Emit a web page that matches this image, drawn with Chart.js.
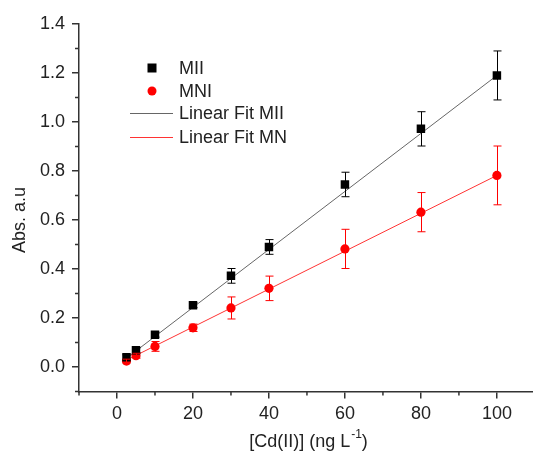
<!DOCTYPE html>
<html>
<head>
<meta charset="utf-8">
<script src="https://cdn.jsdelivr.net/npm/chart.js@4.4.1/dist/chart.umd.min.js"></script>
<style>
	html, body { margin: 0; padding: 0; background: #fff; }
	#wrap { width: 533px; height: 451px; }
</style>
</head>
<body>
<div id="wrap"><canvas id="cd-viz" width="533" height="451"></canvas></div>
<script>
// Cd(II) concentration, ng/L
var concentrations = [ 2.5, 5, 10, 20, 30, 40, 60, 80, 100 ];

// absorbance (a.u.) and error bars
var mii_abs = [ 0.040, 0.068, 0.132, 0.252, 0.372, 0.490, 0.745, 0.972, 1.190 ];
var mii_err = [ 0.010, 0.010, 0.010, 0.010, 0.030, 0.030, 0.050, 0.070, 0.100 ];
var mni_abs = [ 0.024, 0.046, 0.084, 0.160, 0.241, 0.321, 0.482, 0.632, 0.782 ];
var mni_err = [ 0.008, 0.010, 0.020, 0.015, 0.045, 0.050, 0.080, 0.080, 0.120 ];

// linear fit end points
var fit_x   = [ 2.5, 100 ];
var fit_mii = [ 0.036, 1.190 ];
var fit_mni = [ 0.028, 0.782 ];

var xTicks = [ 0, 20, 40, 60, 80, 100 ];
var xMinor = [ -10, 10, 30, 50, 70, 90 ];
var yTicks = [ 0, 0.2, 0.4, 0.6, 0.8, 1.0, 1.2, 1.4 ];
var yMinor = [ -0.1, 0.1, 0.3, 0.5, 0.7, 0.9, 1.1, 1.3 ];

var legend_labels = [ 'MII', 'MNI', 'Linear Fit MII', 'Linear Fit MN' ];

var FONT = '"Liberation Sans", Arial, sans-serif';
var TXT = '#222';
var AXIS = '#333';
var FIT_MII_COLOR = '#666';
var FIT_MNI_COLOR = '#f33';

function toPoints(xs, ys) {
	return xs.map(function(x, i) { return { x: x, y: ys[i] }; });
}

// error bars, minor ticks, axis titles and legend
var extrasPlugin = {
	id: 'extras',
	afterDatasetsDraw: function(chart) {
		var ctx = chart.ctx;
		var xs = chart.scales.x, ys = chart.scales.y;
		var sets = [ [mii_abs, mii_err, '#000'], [mni_abs, mni_err, '#f00'] ];
		ctx.save();
		ctx.lineWidth = 1;
		sets.forEach(function(s) {
			ctx.strokeStyle = s[2];
			concentrations.forEach(function(c, i) {
				var px = Math.round(xs.getPixelForValue(c)) + 0.5;
				var top = ys.getPixelForValue(s[0][i] + s[1][i]);
				var bot = ys.getPixelForValue(s[0][i] - s[1][i]);
				ctx.beginPath();
				ctx.moveTo(px, top); ctx.lineTo(px, bot);
				ctx.moveTo(px - 4, top); ctx.lineTo(px + 4, top);
				ctx.moveTo(px - 4, bot); ctx.lineTo(px + 4, bot);
				ctx.stroke();
			});
		});
		ctx.restore();
	},
	afterDraw: function(chart) {
		var ctx = chart.ctx;
		var xs = chart.scales.x, ys = chart.scales.y;
		var area = chart.chartArea;
		ctx.save();
		// minor ticks
		ctx.strokeStyle = AXIS;
		ctx.lineWidth = 1.5;
		ctx.beginPath();
		yMinor.forEach(function(v) {
			var py = ys.getPixelForValue(v);
			ctx.moveTo(area.left - 4, py); ctx.lineTo(area.left, py);
		});
		xMinor.forEach(function(v) {
			var px = xs.getPixelForValue(v);
			ctx.moveTo(px, area.bottom); ctx.lineTo(px, area.bottom + 4);
		});
		ctx.stroke();

		// y title
		ctx.fillStyle = TXT;
		ctx.font = '18px ' + FONT;
		ctx.textAlign = 'center';
		ctx.textBaseline = 'middle';
		ctx.save();
		ctx.translate(20, 220);
		ctx.rotate(-Math.PI / 2);
		ctx.fillText('Abs. a.u', 0, 0);
		ctx.restore();

		// x title with superscript
		var part1 = '[Cd(II)] (ng L', sup = '-1', part2 = ')';
		ctx.font = '18px ' + FONT;
		var w1 = ctx.measureText(part1).width, w3 = ctx.measureText(part2).width;
		ctx.font = '12px ' + FONT;
		var w2 = ctx.measureText(sup).width;
		var x0 = 308 - (w1 + w2 + w3) / 2;
		ctx.textAlign = 'left';
		ctx.textBaseline = 'alphabetic';
		ctx.font = '18px ' + FONT;
		ctx.fillText(part1, x0, 447);
		ctx.font = '12px ' + FONT;
		ctx.fillText(sup, x0 + w1 + 1, 438);
		ctx.font = '18px ' + FONT;
		ctx.fillText(part2, x0 + w1 + w2 + 1, 447);

		// legend
		var lx = 152, ly = [ 68, 91, 113, 137 ];
		ctx.fillStyle = '#000';
		ctx.fillRect(lx - 4.5, ly[0] - 4.5, 9, 9);
		ctx.fillStyle = '#f00';
		ctx.beginPath(); ctx.arc(lx, ly[1], 4.5, 0, Math.PI * 2); ctx.fill();
		ctx.fillStyle = FIT_MII_COLOR;
		ctx.fillRect(130, ly[2], 43, 1);
		ctx.fillStyle = FIT_MNI_COLOR;
		ctx.fillRect(130, ly[3], 43, 1);
		ctx.fillStyle = TXT;
		ctx.font = '18px ' + FONT;
		ctx.textBaseline = 'middle';
		legend_labels.forEach(function(t, i) { ctx.fillText(t, 179, ly[i] + 1); });
		ctx.restore();
	}
};

var ctx = document.getElementById('cd-viz');
var cfg = {
	type: 'scatter',
	data: {
		datasets: [
			{ label: legend_labels[2], type: 'line', data: toPoints(fit_x, fit_mii),
			  borderColor: FIT_MII_COLOR, borderWidth: 1, pointRadius: 0, order: 3 },
			{ label: legend_labels[3], type: 'line', data: toPoints(fit_x, fit_mni),
			  borderColor: FIT_MNI_COLOR, borderWidth: 1, pointRadius: 0, order: 3 },
			{ label: legend_labels[0], data: toPoints(concentrations, mii_abs),
			  pointStyle: 'rect', pointRadius: 6, backgroundColor: '#000', borderColor: '#000', borderWidth: 0, order: 1 },
			{ label: legend_labels[1], data: toPoints(concentrations, mni_abs),
			  pointStyle: 'circle', pointRadius: 4.6, backgroundColor: '#f00', borderColor: '#f00', borderWidth: 0, order: 2 }
		]
	},
	options: {
		responsive: false,
		animation: false,
		layout: { autoPadding: false, padding: { top: 24, right: 0, left: 0, bottom: 0 } },
		plugins: {
			legend: { display: false },
			tooltip: { enabled: false }
		},
		scales: {
			x: {
				type: 'linear', min: -10, max: 109.5,
				afterBuildTicks: function(s) { s.ticks = xTicks.map(function(v) { return { value: v }; }); },
				afterFit: function(s) { s.height = 59.5; s.paddingLeft = 0; s.paddingRight = 0; },
				border: { display: true, color: AXIS, width: 1.5 },
				grid: { drawOnChartArea: false, drawTicks: true, tickLength: 7, color: AXIS, lineWidth: 1.5 },
				ticks: { color: TXT, font: { family: FONT, size: 18 }, padding: 5, maxRotation: 0 }
			},
			y: {
				type: 'linear', min: -0.1, max: 1.4,
				afterBuildTicks: function(s) { s.ticks = yTicks.map(function(v) { return { value: v }; }); },
				afterFit: function(s) { s.width = 79; s.paddingTop = 0; s.paddingBottom = 0; },
				border: { display: true, color: AXIS, width: 1.5 },
				grid: { drawOnChartArea: false, drawTicks: true, tickLength: 7, color: AXIS, lineWidth: 1.5 },
				ticks: { color: TXT, font: { family: FONT, size: 18 }, padding: 7,
				         callback: function(v) { return v.toFixed(1); } }
			}
		}
	},
	plugins: [ extrasPlugin ]
};
new Chart(ctx, cfg);
</script>
</body>
</html>
